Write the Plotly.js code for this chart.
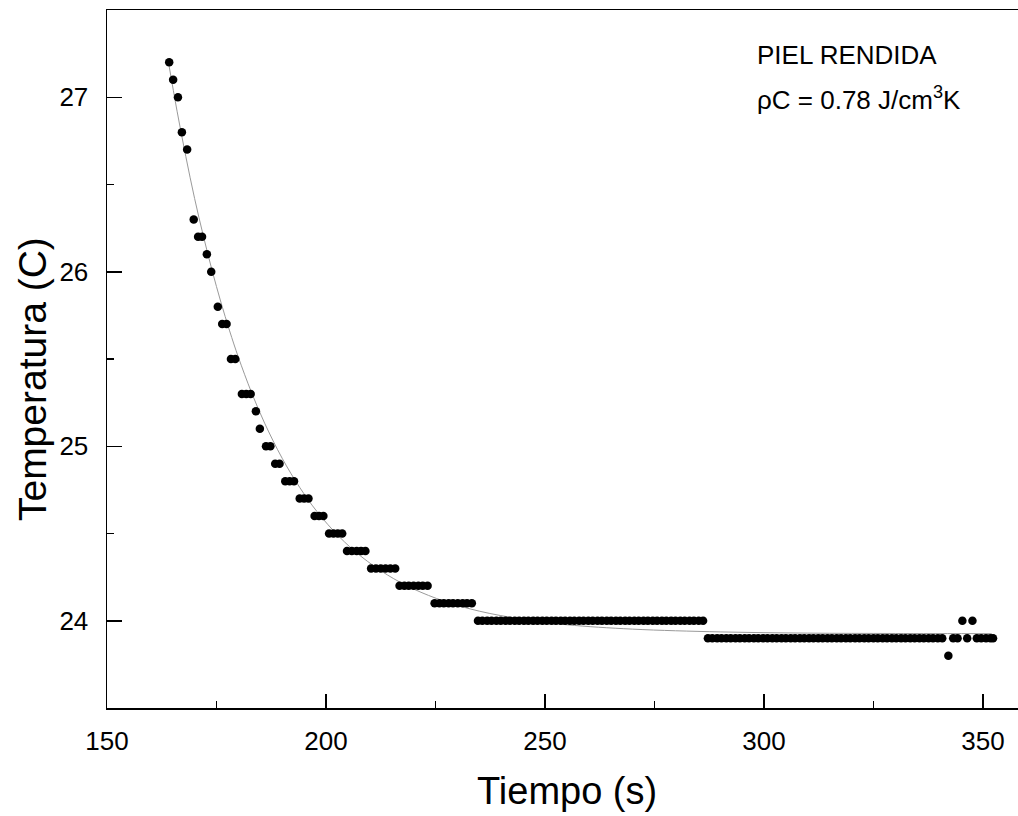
<!DOCTYPE html>
<html>
<head>
<meta charset="utf-8">
<script src="https://cdn.plot.ly/plotly-3.0.1.min.js"></script>
<style>html,body{margin:0;padding:0;background:#fff;}#chart{width:1018px;height:816px;}</style>
</head>
<body>
<div id="chart"></div>
<script>
// Measured data: time (s) and temperature (C)
const tiempo = [
164.2,165.1,166.2,167.1,168.3,169.8,170.8,171.7,172.8,173.8,
175.3,176.3,177.3,178.3,179.3,180.8,181.8,182.8,184.0,184.9,
186.3,187.3,188.4,189.4,190.7,191.7,192.7,194.0,195.0,196.0,
197.4,198.4,199.4,200.7,201.7,202.7,203.7,204.8,205.9,207.0,
208.0,209.0,210.3,211.4,212.5,213.6,214.7,215.8,216.8,217.9,
218.9,220.0,221.1,222.1,223.2,224.8,225.9,226.9,228.0,229.0,
230.1,231.2,232.2,233.3,
234.7,235.7,236.8,237.8,238.9,239.9,241.0,242.0,243.1,244.1,
245.2,246.2,247.3,248.3,249.4,250.4,251.5,252.5,253.6,254.6,
255.7,256.7,257.8,258.8,259.9,260.9,262.0,263.0,264.1,265.1,
266.2,267.2,268.3,269.3,270.4,271.4,272.5,273.5,274.6,275.6,
276.7,277.7,278.8,279.8,280.9,281.9,283.0,284.0,285.1,286.1,
287.2,288.2,289.3,290.3,291.4,292.4,293.5,294.5,295.6,296.6,
297.7,298.7,299.8,300.8,301.9,302.9,304.0,305.0,306.1,307.1,
308.2,309.2,310.3,311.3,312.4,313.4,314.5,315.5,316.6,317.6,
318.7,319.7,320.8,321.8,322.9,323.9,325.0,326.0,327.1,328.1,
329.2,330.2,331.3,332.3,333.4,334.4,335.5,336.5,337.6,338.6,
339.7,340.7,342.1,343.2,344.2,345.3,346.4,347.6,348.6,349.6,
350.7,351.7,352.3
];
const temperatura = [
27.2,27.1,27.0,26.8,26.7,26.3,26.2,26.2,26.1,26.0,
25.8,25.7,25.7,25.5,25.5,25.3,25.3,25.3,25.2,25.1,
25.0,25.0,24.9,24.9,24.8,24.8,24.8,24.7,24.7,24.7,
24.6,24.6,24.6,24.5,24.5,24.5,24.5,24.4,24.4,24.4,
24.4,24.4,24.3,24.3,24.3,24.3,24.3,24.3,24.2,24.2,
24.2,24.2,24.2,24.2,24.2,24.1,24.1,24.1,24.1,24.1,
24.1,24.1,24.1,24.1,
24.0,24.0,24.0,24.0,24.0,24.0,24.0,24.0,24.0,24.0,
24.0,24.0,24.0,24.0,24.0,24.0,24.0,24.0,24.0,24.0,
24.0,24.0,24.0,24.0,24.0,24.0,24.0,24.0,24.0,24.0,
24.0,24.0,24.0,24.0,24.0,24.0,24.0,24.0,24.0,24.0,
24.0,24.0,24.0,24.0,24.0,24.0,24.0,24.0,24.0,24.0,
23.9,23.9,23.9,23.9,23.9,23.9,23.9,23.9,23.9,23.9,
23.9,23.9,23.9,23.9,23.9,23.9,23.9,23.9,23.9,23.9,
23.9,23.9,23.9,23.9,23.9,23.9,23.9,23.9,23.9,23.9,
23.9,23.9,23.9,23.9,23.9,23.9,23.9,23.9,23.9,23.9,
23.9,23.9,23.9,23.9,23.9,23.9,23.9,23.9,23.9,23.9,
23.9,23.9,23.8,23.9,23.9,24.0,23.9,24.0,23.9,23.9,
23.9,23.9,23.9
];
// Fitted curve
const ajusteT = [164,166,168,170,172,174,176,178,180,183,186,190,194,198,203,208,214,220,227,235,245,255,270,290,310,330,352];
const ajusteY = [27.205,26.92,26.66,26.42,26.205,26.007,25.826,25.661,25.51,25.308,25.132,24.931,24.764,24.624,24.482,24.369,24.263,24.182,24.112,24.055,24.008,23.977,23.952,23.936,23.929,23.927,23.926];

const xTicks = [150,200,250,300,350];
const xMinor = [175,225,275,325];
const yTicks = [24,25,26,27];
const yMinor = [24.5,25.5,26.5];

const FONT = '"Liberation Sans", Arial, Helvetica, sans-serif';

const traces = [
  {x: ajusteT, y: ajusteY, mode: 'lines', type: 'scatter', line: {color: '#9a9a9a', width: 1, shape: 'spline'}, hoverinfo: 'skip'},
  {x: tiempo, y: temperatura, mode: 'markers', type: 'scatter', marker: {color: '#000', size: 8.5}}
];

const layout = {
  width: 1018, height: 816,
  margin: {l: 107, r: 0, t: 10, b: 108},
  paper_bgcolor: '#fff', plot_bgcolor: '#fff',
  showlegend: false,
  font: {family: FONT, color: '#000'},
  xaxis: {
    range: [150, 358], tickvals: xTicks, ticktext: xTicks.map(String),
    ticks: 'inside', ticklen: 14, tickwidth: 1.5, tickcolor: '#000',
    minor: {tickvals: xMinor, ticks: 'inside', ticklen: 7, tickwidth: 1.5, tickcolor: '#000'},
    showline: true, linecolor: '#000', linewidth: 1.5, mirror: true,
    showgrid: false, zeroline: false,
    tickfont: {family: FONT, size: 26, color: '#000'},
    ticklabelstandoff: 9
  },
  yaxis: {
    range: [23.5, 27.5], tickvals: yTicks, ticktext: yTicks.map(String),
    ticks: 'inside', ticklen: 15, tickwidth: 1.5, tickcolor: '#000',
    minor: {tickvals: yMinor, ticks: 'inside', ticklen: 7, tickwidth: 1.5, tickcolor: '#000'},
    showline: true, linecolor: '#000', linewidth: 1.5, mirror: false,
    showgrid: false, zeroline: false,
    tickfont: {family: FONT, size: 26, color: '#000'},
    ticklabelstandoff: 12
  },
  annotations: [
    {text: 'Tiempo (s)', xref: 'paper', yref: 'paper', x: 0.505, y: -0.119, xanchor: 'center', yanchor: 'middle', showarrow: false, font: {family: FONT, size: 38, color: '#000'}},
    {text: 'Temperatura (C)', xref: 'paper', yref: 'paper', x: -0.0823, y: 0.4713, xanchor: 'center', yanchor: 'middle', textangle: -90, showarrow: false, font: {family: FONT, size: 39, color: '#000'}},
    {text: 'PIEL RENDIDA', xref: 'paper', yref: 'paper', x: 0.7113, y: 0.9355, xanchor: 'left', yanchor: 'middle', showarrow: false, font: {family: FONT, size: 26, color: '#000'}},
    {text: 'ρC = 0.78 J/cm<sup>3</sup>K', xref: 'paper', yref: 'paper', x: 0.7113, y: 0.873, xanchor: 'left', yanchor: 'middle', showarrow: false, font: {family: FONT, size: 26, color: '#000'}}
  ]
};

Plotly.newPlot('chart', traces, layout, {displayModeBar: false, staticPlot: true});
</script>
</body>
</html>
